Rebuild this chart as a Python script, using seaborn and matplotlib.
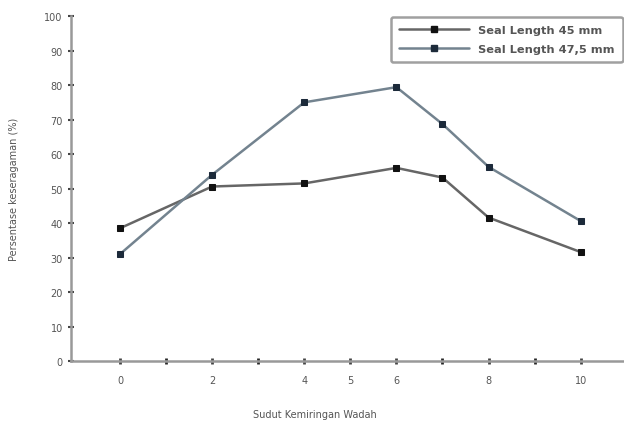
import pandas as pd
import numpy as np
import matplotlib.pyplot as plt
import seaborn as sns
from matplotlib.lines import Line2D

# Data
sudut = [0, 2, 4, 6, 7, 8, 10]
seal_45 = [38.5, 50.6, 51.5, 56.0, 53.2, 41.6, 31.6]
seal_475 = [31.0, 54.0, 75.0, 79.4, 68.7, 56.3, 40.6]
labels = ["Seal Length 45 mm", "Seal Length 47,5 mm"]
x_ticks = [0, 2, 4, 5, 6, 8, 10]
y_ticks = list(range(0, 101, 10))

df = pd.DataFrame({
    "x": sudut * 2,
    "y": seal_45 + seal_475,
    "seri": [labels[0]] * len(sudut) + [labels[1]] * len(sudut),
})

sns.set_style("white")
plt.rcParams['font.family'] = ['DejaVu Sans']

fig = plt.figure(figsize=(6.24, 4.27), dpi=100)
ax = fig.add_axes([0.114, 0.152, 0.886, 0.808])

line_cols = ["#666666", "#73838f"]
marker_cols = ["#111111", "#1c2a3a"]
sns.lineplot(data=df, x="x", y="y", hue="seri", palette=line_cols, ax=ax,
             linewidth=1.8, marker="s", markersize=3.8, legend=False)
for line, mc in zip(ax.lines, marker_cols):
    line.set_markerfacecolor(mc)
    line.set_markeredgecolor(mc)

# Legend
handles = [Line2D([], [], color=c, lw=1.8, marker="s", markersize=3.8,
                  markerfacecolor=m, markeredgecolor=m)
           for c, m in zip(line_cols, marker_cols)]
leg = ax.legend(handles, labels, loc="upper right", bbox_to_anchor=(1.008, 1.015),
                fontsize=8.2, frameon=True, fancybox=True, handlelength=6.2,
                labelspacing=0.85, borderpad=0.7, labelcolor="#555555")
leg.get_frame().set_edgecolor("#888888")
leg.get_frame().set_linewidth(1.8)
for t in leg.get_texts():
    t.set_fontweight("bold")

ax.set_xlim(-1.06, 10.94)
ax.set_ylim(0, 100)
ax.set_xticks(x_ticks)
ax.set_xticks(range(0, 11), minor=True)
ax.set_yticks(y_ticks)
ax.tick_params(axis="both", labelsize=7, labelcolor="#555555", color="#444444")
ax.tick_params(axis="y", left=True, direction="inout", length=4, width=1.5, pad=4)
ax.tick_params(axis="x", which="both", bottom=True, direction="inout",
               length=4, width=2, pad=8)

for s in ["top", "right"]:
    ax.spines[s].set_visible(False)
for s in ["left", "bottom"]:
    ax.spines[s].set_color("#999999")
    ax.spines[s].set_linewidth(1.8)

ax.set_xlabel("Sudut Kemiringan Wadah", fontsize=7, color="#555555")
ax.set_ylabel("Persentase keseragaman (%)", fontsize=7, color="#555555")
ax.xaxis.set_label_coords(0.44, -0.14)
ax.yaxis.set_label_coords(-0.095, 0.5)

fig.savefig("out.png", dpi=100)
